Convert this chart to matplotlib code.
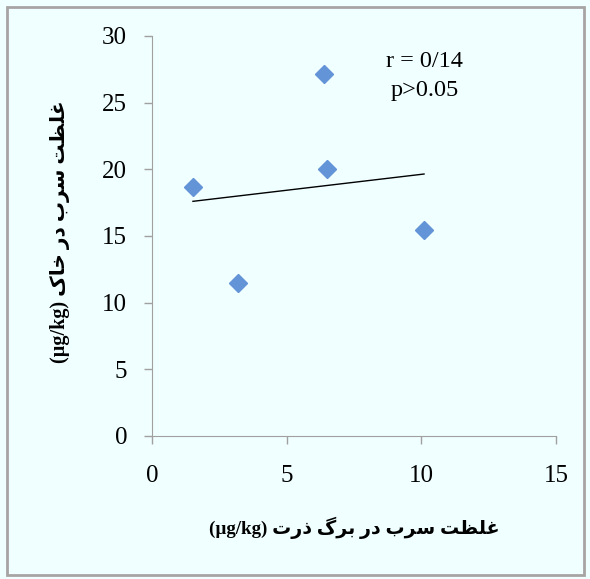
import matplotlib
matplotlib.use("Agg")
import matplotlib.pyplot as plt
from matplotlib.patches import Rectangle
import numpy as np

# data
leaf_pb = np.array([1.52, 3.19, 6.39, 6.5, 10.1])
soil_pb = np.array([18.7, 11.5, 27.15, 20.0, 15.45])
x_ticks = [0, 5, 10, 15]
y_ticks = [0, 5, 10, 15, 20, 25, 30]
stat_text = "r = 0/14\np>0.05"
x_label = "غلظت سرب در برگ ذرت"
y_label = "غلظت سرب در خاک"
unit = "(µg/kg)"

# simple arabic shaping: (isolated, final, initial, medial)
forms = {
    "غ": ("\ufecd", "\ufece", "\ufecf", "\ufed0"),
    "ل": ("\ufedd", "\ufede", "\ufedf", "\ufee0"),
    "ظ": ("\ufec5", "\ufec6", "\ufec7", "\ufec8"),
    "ت": ("\ufe95", "\ufe96", "\ufe97", "\ufe98"),
    "س": ("\ufeb1", "\ufeb2", "\ufeb3", "\ufeb4"),
    "ب": ("\ufe8f", "\ufe90", "\ufe91", "\ufe92"),
    "خ": ("\ufea5", "\ufea6", "\ufea7", "\ufea8"),
    "ک": ("\ufb8e", "\ufb8f", "\ufb90", "\ufb91"),
    "گ": ("\ufb92", "\ufb93", "\ufb94", "\ufb95"),
    "ر": ("\ufead", "\ufeae"),
    "د": ("\ufea9", "\ufeaa"),
    "ذ": ("\ufeab", "\ufeac"),
    "ا": ("\ufe8d", "\ufe8e"),
}

def shape_word(w):
    out = []
    for i, ch in enumerate(w):
        prev_joins = i > 0 and len(forms[w[i - 1]]) == 4
        next_exists = i < len(w) - 1
        f = forms[ch]
        joins_next = next_exists and len(f) == 4
        if prev_joins and joins_next:
            out.append(f[3])
        elif prev_joins:
            out.append(f[1])
        elif joins_next:
            out.append(f[2])
        else:
            out.append(f[0])
    return "".join(reversed(out))

def rtl(s):
    return " ".join(shape_word(w) for w in reversed(s.split()))

fig = plt.figure(figsize=(5.9, 5.79), dpi=100)
bg = "#f0ffff"
fig.patch.set_facecolor(bg)
fig.patches.append(Rectangle((7 / 590, 4 / 579), 577 / 590, 568 / 579,
                             transform=fig.transFigure, fill=False,
                             edgecolor="#a8a4a4", linewidth=2))

ax = fig.add_axes([152 / 590, 1 - 436 / 579, 404 / 590, 400 / 579])
ax.set_facecolor(bg)

ax.plot(leaf_pb, soil_pb, linestyle="none", marker="D", markersize=9,
        color="#6494d8")
m, b = np.polyfit(leaf_pb, soil_pb, 1)
xs = np.array([leaf_pb.min(), leaf_pb.max()])
ax.plot(xs, m * xs + b, color="black", linewidth=1)

ax.set_xlim(0, 15)
ax.set_ylim(0, 30)
ax.set_xticks(x_ticks)
ax.set_yticks(y_ticks)
for s in ["top", "right"]:
    ax.spines[s].set_visible(False)
for s in ["left", "bottom"]:
    ax.spines[s].set_color("#a0a0a0")
ax.tick_params(colors="#a0a0a0", length=6, width=1, labelcolor="black",
               labelsize=18)
ax.tick_params(axis="y", pad=12)
ax.tick_params(axis="x", pad=15)
for lab in ax.get_xticklabels() + ax.get_yticklabels():
    lab.set_fontfamily("Liberation Serif")

ax.text(10.12, 27.0, stat_text, ha="center", va="center", fontsize=17.5,
        family="Liberation Serif", linespacing=1.45)

ax.set_xlabel(unit + " " + rtl(x_label), fontsize=13.7, fontweight="bold",
              family=["Liberation Serif", "DejaVu Sans"])
ax.set_ylabel(unit + " " + rtl(y_label), fontsize=14.5, fontweight="bold",
              family=["Liberation Serif", "DejaVu Sans"])
ax.xaxis.set_label_coords(0.502, -0.203)
ax.yaxis.set_label_coords(-0.203, 0.51)

fig.savefig("out.png", dpi=100, facecolor=bg)
